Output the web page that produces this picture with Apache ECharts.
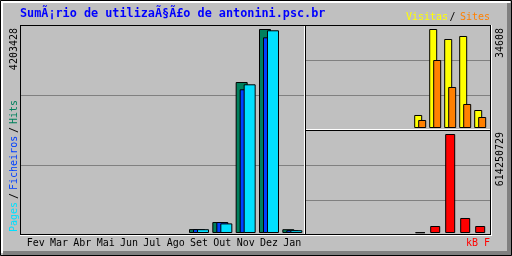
<!DOCTYPE html>
<html><head><meta charset="utf-8">
<script src="https://cdn.jsdelivr.net/npm/echarts@6/dist/echarts.min.js"></script>
<style>html,body{margin:0;padding:0;background:#c0c0c0}#c{width:512px;height:256px}</style>
</head><body><div id="c"></div>
<script>
// ---- data ----
const months = ['Fev','Mar','Abr','Mai','Jun','Jul','Ago','Set','Out','Nov','Dez','Jan'];
const hits   = [0,0,0,0,0,0,0,80000,226000,3111000,4203428,78000];
const files  = [0,0,0,0,0,0,0,80000,226000,2961000,4032000,58000];
const pages  = [0,0,0,0,0,0,0,78000,198000,3064000,4177000,58000];
const visits = [0,0,0,0,0,0,0,4545,34608,31113,32161,6292];
const sites  = [0,0,0,0,0,0,0,2797,23771,14333,8390,3845];
const kbytes = [0,0,0,0,0,0,0,4000000,43400000,614250729,93100000,43400000];
const title = 'SumÃ¡rio de utilizaÃ§Ã£o de antonini.psc.br';

const maxHits = Math.max(...hits), maxVisits = Math.max(...visits), maxKb = Math.max(...kbytes);
const MONO = '"DejaVu Sans Mono", monospace';
const C = {hits:'#00805c', files:'#0040ff', pages:'#00e0ff', visits:'#ffff00', sites:'#ff8000', kb:'#ff0000', grid:'#808080'};
const nz = a => a.map(v => v === 0 ? '-' : v);

function hline(y, x1, x2, color){ return {type:'line', z:1, silent:true, shape:{x1:x1, y1:y+0.5, x2:x2, y2:y+0.5}, style:{stroke:color, lineWidth:1}}; }
function vline(x, y1, y2, color){ return {type:'line', z:1, silent:true, shape:{x1:x+0.5, y1:y1, x2:x+0.5, y2:y2}, style:{stroke:color, lineWidth:1}}; }
function txt(x, y, s, color, opts){ return Object.assign({type:'text', z:5, silent:true, x:x, y:y, style:Object.assign({text:s, fill:color, font:'10px '+MONO, verticalAlign:'middle', align:'left'}, opts||{})}); }
function rtxt(x, y, s, color, align){ return {type:'text', z:5, silent:true, x:x, y:y, rotation:Math.PI/2, style:{text:s, fill:color, font:'10px '+MONO, verticalAlign:'middle', align:align}}; }

const graphic = [
  // outer bevel
  {type:'rect', z:0, silent:true, shape:{x:1, y:1, width:509, height:2}, style:{fill:'#ffffff'}},
  {type:'rect', z:0, silent:true, shape:{x:1, y:1, width:2, height:252}, style:{fill:'#ffffff'}},
  {type:'rect', z:0, silent:true, shape:{x:507, y:3, width:4, height:252}, style:{fill:'#808080'}},
  {type:'rect', z:0, silent:true, shape:{x:3, y:251, width:508, height:4}, style:{fill:'#808080'}},
  {type:'rect', z:0, silent:true, shape:{x:0.5, y:0.5, width:511, height:255}, style:{fill:null, stroke:'#000', lineWidth:1}},
  // grid lines
  hline(95, 21, 304, C.grid), hline(165, 21, 304, C.grid),
  hline(60, 306, 490, C.grid), hline(95, 306, 490, C.grid),
  hline(165, 306, 490, C.grid), hline(200, 306, 490, C.grid),
  // inner box
  hline(25, 20, 491, '#000'), vline(20, 25, 235, '#000'),
  vline(490, 25, 235, '#000'), hline(234, 20, 491, '#000'),
  vline(491, 25, 236, '#fff'), hline(235, 20, 492, '#fff'),
  // section lines
  vline(304, 26, 234, '#fff'), vline(305, 25, 234, '#000'),
  hline(129, 306, 490, '#fff'), hline(130, 305, 490, '#000'),
  // title and legends
  {type:'text', z:5, silent:true, x:20, y:14, style:{text:title, fill:'#0000ff', font:'bold 11.8px '+MONO, verticalAlign:'middle', align:'left'}},
  txt(406, 17, 'Visitas', C.visits), txt(449.5, 17, '/', '#000'), txt(460, 17, 'Sites', C.sites),
  txt(466, 243, 'kB', C.kb), txt(484, 243, 'F', C.kb),
  // rotated labels
  rtxt(14, 28, String(maxHits), '#000', 'right'),
  rtxt(14, 232, 'Pages', C.pages, 'left'),
  rtxt(14, 196, '/', '#000', 'center'),
  rtxt(14, 190, 'Ficheiros', C.files, 'left'),
  rtxt(14, 130, '/', '#000', 'center'),
  rtxt(14, 124, 'Hits', C.hits, 'left'),
  rtxt(500, 28, String(maxVisits), '#000', 'right'),
  rtxt(500, 132, String(maxKb), '#000', 'right')
];

const hiddenCat = i => ({type:'category', gridIndex:i, data:months, boundaryGap:true,
  axisLine:{show:false}, axisTick:{show:false}, splitLine:{show:false}, axisLabel:{show:false}});
const hiddenVal = (i, max) => ({type:'value', gridIndex:i, min:0, max:max,
  axisLine:{show:false}, axisTick:{show:false}, splitLine:{show:false}, axisLabel:{show:false}});

const xMain = hiddenCat(0);
xMain.axisLabel = {show:true, color:'#000', fontFamily:'DejaVu Sans Mono', fontSize:10, margin:5, interval:0};

const barBase = {type:'bar', silent:true, animation:false};

const option = {
  backgroundColor:'#c0c0c0',
  animation:false,
  grid:[
    {left:24, top:29, width:280, height:204},
    {left:307.7, top:29, width:180, height:99},
    {left:307.7, top:134, width:180, height:99}
  ],
  xAxis:[xMain, hiddenCat(1), hiddenCat(2)],
  yAxis:[hiddenVal(0, maxHits), hiddenVal(1, maxVisits), hiddenVal(2, maxKb)],
  series:[
    Object.assign({}, barBase, {name:'Hits', xAxisIndex:0, yAxisIndex:0, data:nz(hits), barWidth:12, barGap:'-66.67%', itemStyle:{color:C.hits, borderColor:'#000', borderWidth:1}}),
    Object.assign({}, barBase, {name:'Ficheiros', xAxisIndex:0, yAxisIndex:0, data:nz(files), barWidth:12, barGap:'-66.67%', itemStyle:{color:C.files, borderColor:'#000', borderWidth:1}}),
    Object.assign({}, barBase, {name:'Pages', xAxisIndex:0, yAxisIndex:0, data:nz(pages), barWidth:12, barGap:'-66.67%', itemStyle:{color:C.pages, borderColor:'#000', borderWidth:1}}),
    Object.assign({}, barBase, {name:'Visitas', xAxisIndex:1, yAxisIndex:1, data:nz(visits), barWidth:8, barGap:'-50%', itemStyle:{color:C.visits, borderColor:'#000', borderWidth:1}}),
    Object.assign({}, barBase, {name:'Sites', xAxisIndex:1, yAxisIndex:1, data:nz(sites), barWidth:8, barGap:'-50%', itemStyle:{color:C.sites, borderColor:'#000', borderWidth:1}}),
    Object.assign({}, barBase, {name:'kB F', xAxisIndex:2, yAxisIndex:2, data:nz(kbytes), barWidth:10, itemStyle:{color:C.kb, borderColor:'#000', borderWidth:1}})
  ],
  graphic: graphic
};

const chart = echarts.init(document.getElementById('c'), null, {renderer:'canvas'});
chart.setOption(option);
</script>
</body></html>
